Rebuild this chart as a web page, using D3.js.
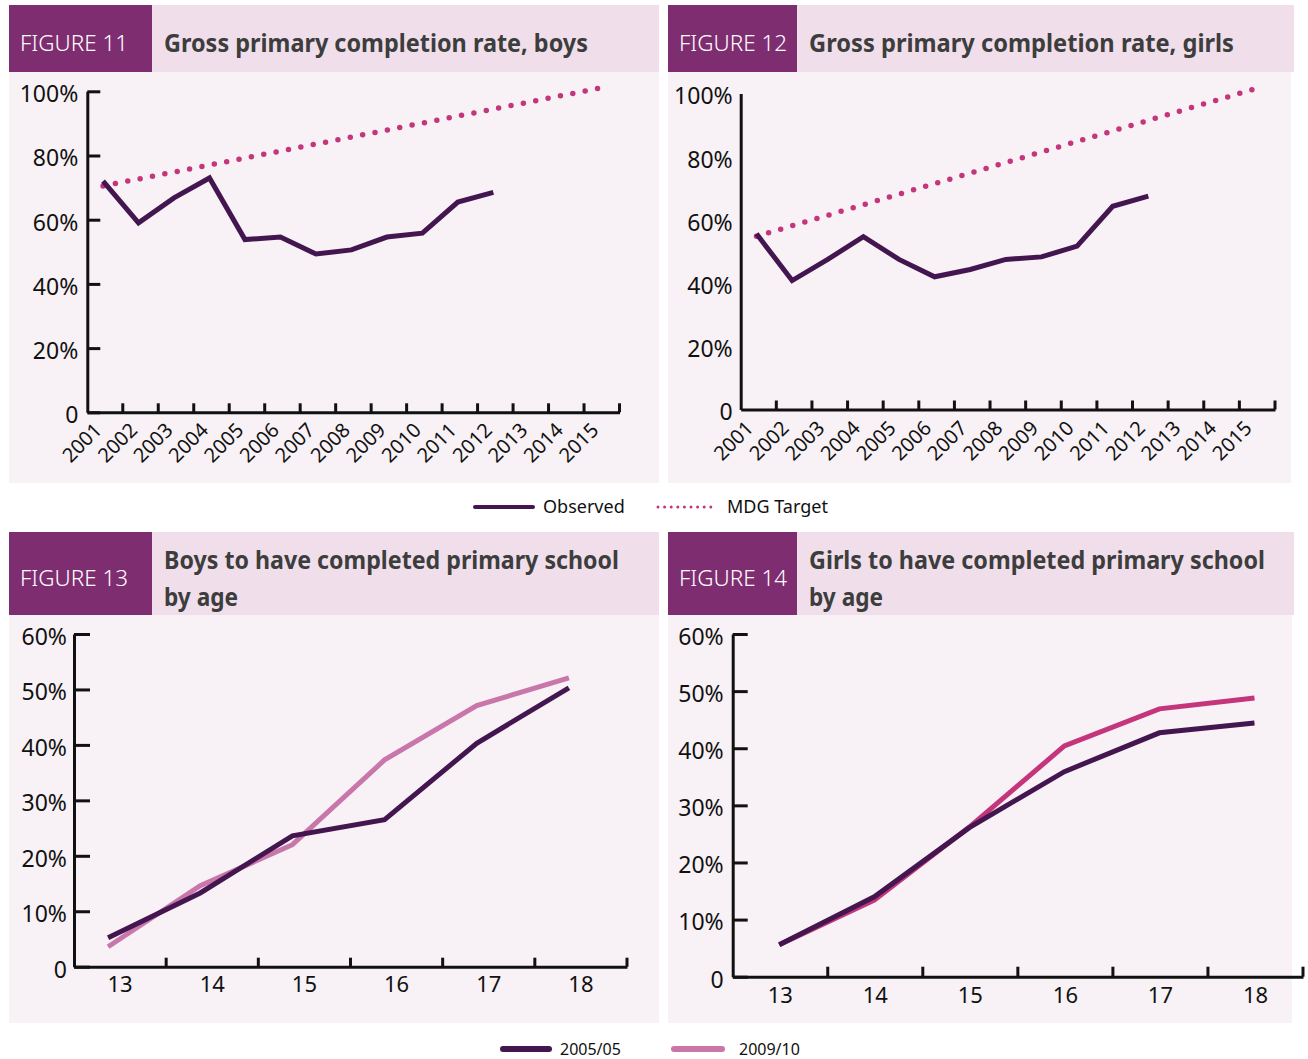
<!DOCTYPE html>
<html>
<head>
<meta charset="utf-8">
<script src="https://cdn.jsdelivr.net/npm/d3@7"></script>
<style>
  body { margin: 0; background: #fff; }
  text { font-family: "Noto Sans", sans-serif; }
</style>
</head>
<body>
<div id="graf"></div>
<script>
// Datos
const years = ["2001", "2002", "2003", "2004", "2005", "2006", "2007", "2008",
  "2009", "2010", "2011", "2012", "2013", "2014", "2015"]
const observedYears = ["2001", "2002", "2003", "2004", "2005", "2006", "2007", "2008",
  "2009", "2010", "2011", "2012"]
const targetYears = ["2001", "2015"]

const boysObserved = [72.0, 59.0, 66.8, 73.0, 53.8, 54.6, 49.3, 50.6, 54.6, 55.8, 65.5, 68.5]
const boysTarget = [70.5, 101]
const girlsObserved = [55.6, 40.8, 47.5, 54.7, 47.5, 42.0, 44.3, 47.5, 48.3, 51.7, 64.3, 67.5]
const girlsTarget = [54.8, 101.5]

const ages = ["13", "14", "15", "16", "17", "18"]
const boysAge0505 = [5.2, 13.3, 23.6, 26.5, 40.3, 50.3]
const boysAge0910 = [3.6, 14.6, 22.0, 37.3, 47.1, 52.1]
const girlsAge0505 = [5.6, 14.0, 26.1, 35.9, 42.7, 44.4]
const girlsAge0910 = [5.6, 13.4, 26.2, 40.4, 46.9, 48.8]

const ticks100 = [0, 20, 40, 60, 80, 100]
const ticks60 = [0, 10, 20, 30, 40, 50, 60]

// Colores
const purpleBox = "#7f2d71"
const headBg = "#f0dfeb"
const chartBg = "#f8f1f6"
const darkLine = "#43164f"
const targetCol = "#c4357b"
const lightPink = "#c977ab"
const magenta = "#c4357b"

const svg = d3.select("#graf")
  .append("svg")
  .attr("width", 1308)
  .attr("height", 1059)

const zip = (cats, vals) => cats.map((c, i) => ({ cat: c, v: vals[i] }))

const drawPanel = (p) => {
  // Cabecera
  svg.append("rect")
    .attr("x", p.x).attr("y", p.y)
    .attr("width", p.w).attr("height", p.headH)
    .attr("fill", headBg)
  svg.append("rect")
    .attr("x", p.x).attr("y", p.y)
    .attr("width", p.boxW).attr("height", p.headH)
    .attr("fill", purpleBox)
  svg.append("text")
    .attr("x", p.x + 11)
    .attr("y", p.figY)
    .attr("fill", "#fff")
    .style("font-size", "21px")
    .style("font-weight", 300)
    .attr("textLength", 108)
    .attr("lengthAdjust", "spacingAndGlyphs")
    .text(p.fig)
  p.title.forEach((t, i) => {
    svg.append("text")
      .attr("x", p.x + p.boxW + 12)
      .attr("y", p.titleY[i])
      .attr("fill", "#3d3d3d")
      .style("font-size", "25px")
      .style("font-weight", "bold")
      .attr("textLength", p.titleLen[i])
      .attr("lengthAdjust", "spacingAndGlyphs")
      .text(t)
  })

  // Fondo
  svg.append("rect")
    .attr("x", p.x).attr("y", p.y + p.headH)
    .attr("width", p.bgW).attr("height", p.bgBottom - p.y - p.headH)
    .attr("fill", chartBg)

  // Escaladores
  const x = d3.scaleBand().domain(p.cats).range([p.xL, p.xR])
  const y = d3.scaleLinear().domain([0, p.ymax]).range([p.y0, p.yTop])

  // Ejes
  const yAxis = d3.axisLeft(y)
    .tickValues(p.yTicks)
    .tickSizeInner(-p.tickLen)
    .tickSizeOuter(0)
    .tickPadding(p.labelPad)
    .tickFormat((d) => (d === 0 ? "0" : d + "%"))
  const yg = svg.append("g")
    .attr("transform", `translate(${p.xL}, 0)`)
    .call(yAxis)
  yg.selectAll("text")
    .attr("x", -p.labelPad)
    .style("font-size", "23px")
    .attr("fill", "#111")
    .attr("dy", "0.45em")

  const xAxis = d3.axisBottom(x).tickSize(0).tickSizeOuter(0)
  const xg = svg.append("g")
    .attr("transform", `translate(0, ${p.y0})`)
    .call(xAxis)
  if (p.rotate) {
    xg.selectAll("text")
      .attr("x", 0).attr("y", 0).attr("dy", 0)
      .attr("text-anchor", "end")
      .attr("transform", `translate(${p.lblDx}, ${p.lblDy}) rotate(-45)`)
      .style("font-size", "20px")
      .attr("fill", "#111")
  } else {
    xg.selectAll("text")
      .attr("x", p.lblDx)
      .attr("y", p.lblDy).attr("dy", 0)
      .style("font-size", "22px")
      .attr("fill", "#111")
  }
  xg.selectAll(".bound")
    .data(p.cats)
    .join("line")
    .attr("class", "bound")
    .attr("x1", (d) => x(d) + x.bandwidth())
    .attr("x2", (d) => x(d) + x.bandwidth())
    .attr("y1", 0)
    .attr("y2", -p.xTickLen)
    .attr("stroke", "#111")
    .attr("stroke-width", 3)

  svg.selectAll(".domain").attr("stroke", "#111").attr("stroke-width", 3)
  yg.selectAll(".tick line").attr("stroke", "#111").attr("stroke-width", 3)

  // Lineas
  const line = d3.line()
    .x((d) => x(d.cat) + x.bandwidth() / 2 + p.ptDx)
    .y((d) => y(d.v))

  p.series.forEach((s) => {
    svg.append("path")
      .datum(zip(s.cats, s.values))
      .attr("d", line)
      .attr("fill", "none")
      .attr("stroke", s.color)
      .attr("stroke-width", s.dotted ? 5.5 : 5)
      .attr("stroke-linecap", s.dotted ? "round" : "butt")
      .attr("stroke-linejoin", "miter")
      .attr("stroke-dasharray", s.dotted ? "0 12.6" : null)
  })
}

const panels = [
  {
    fig: "FIGURE 11", figY: 51, title: ["Gross primary completion rate, boys"], titleY: [52], titleLen: [424],
    x: 9, y: 5, w: 650, bgW: 650, headH: 67, boxW: 143, bgBottom: 483,
    cats: years, xL: 87.3, xR: 619.5, y0: 412.3, yTop: 91.3, ymax: 100, yTicks: ticks100,
    tickLen: 13, labelPad: 9, xTickLen: 9, rotate: true, lblDx: -2, lblDy: 19, ptDx: -2,
    series: [
      { cats: targetYears, values: boysTarget, color: targetCol, dotted: true },
      { cats: observedYears, values: boysObserved, color: darkLine }
    ]
  },
  {
    fig: "FIGURE 12", figY: 51, title: ["Gross primary completion rate, girls"], titleY: [52], titleLen: [425],
    x: 668, y: 5, w: 626, bgW: 623, headH: 67, boxW: 129, bgBottom: 483,
    cats: years, xL: 740.7, xR: 1275, y0: 409.5, yTop: 93.5, ymax: 100, yTicks: ticks100,
    tickLen: 0, labelPad: 8, xTickLen: 9, rotate: true, lblDx: -4, lblDy: 20, ptDx: -2,
    series: [
      { cats: targetYears, values: girlsTarget, color: targetCol, dotted: true },
      { cats: observedYears, values: girlsObserved, color: darkLine }
    ]
  },
  {
    fig: "FIGURE 13", figY: 586, title: ["Boys to have completed primary school", "by age"], titleY: [569, 606],
    titleLen: [455, 74],
    x: 9, y: 532, w: 650, bgW: 650, headH: 83, boxW: 143, bgBottom: 1023,
    cats: ages, xL: 74, xR: 627, y0: 966.7, yTop: 634, ymax: 60, yTicks: ticks60,
    tickLen: 16, labelPad: 7, xTickLen: 9, rotate: false, lblDx: 0, lblDy: 25, ptDx: -12,
    series: [
      { cats: ages, values: boysAge0910, color: lightPink },
      { cats: ages, values: boysAge0505, color: darkLine }
    ]
  },
  {
    fig: "FIGURE 14", figY: 586, title: ["Girls to have completed primary school", "by age"], titleY: [569, 606],
    titleLen: [456, 74],
    x: 668, y: 532, w: 626, bgW: 624, headH: 83, boxW: 129, bgBottom: 1023,
    cats: ages, xL: 732.7, xR: 1303, y0: 976.7, yTop: 634, ymax: 60, yTicks: ticks60,
    tickLen: 15, labelPad: 9, xTickLen: 10, rotate: false, lblDx: 0, lblDy: 26, ptDx: -1,
    series: [
      { cats: ages, values: girlsAge0910, color: magenta },
      { cats: ages, values: girlsAge0505, color: darkLine }
    ]
  }
]

panels.forEach(drawPanel)

// Leyendas
const legend = (items, y) => {
  items.forEach((it) => {
    svg.append("line")
      .attr("x1", it.x1).attr("x2", it.x2)
      .attr("y1", y).attr("y2", y)
      .attr("stroke", it.color)
      .attr("stroke-width", it.dotted ? 3 : it.w)
      .attr("stroke-linecap", "round")
      .attr("stroke-dasharray", it.dotted ? "0 6.6" : null)
    svg.append("text")
      .attr("x", it.tx)
      .attr("y", y + 6)
      .style("font-size", it.fs)
      .attr("fill", "#111")
      .text(it.label)
  })
}

legend([
  { x1: 475, x2: 533, color: darkLine, w: 4, tx: 543, label: "Observed", fs: "18px" },
  { x1: 658, x2: 716, color: targetCol, dotted: true, tx: 727, label: "MDG Target", fs: "18px" }
], 507)

legend([
  { x1: 503, x2: 549, color: darkLine, w: 6, tx: 560, label: "2005/05", fs: "16px" },
  { x1: 674, x2: 722, color: lightPink, w: 6, tx: 739, label: "2009/10", fs: "16px" }
], 1049)
</script>
</body>
</html>
